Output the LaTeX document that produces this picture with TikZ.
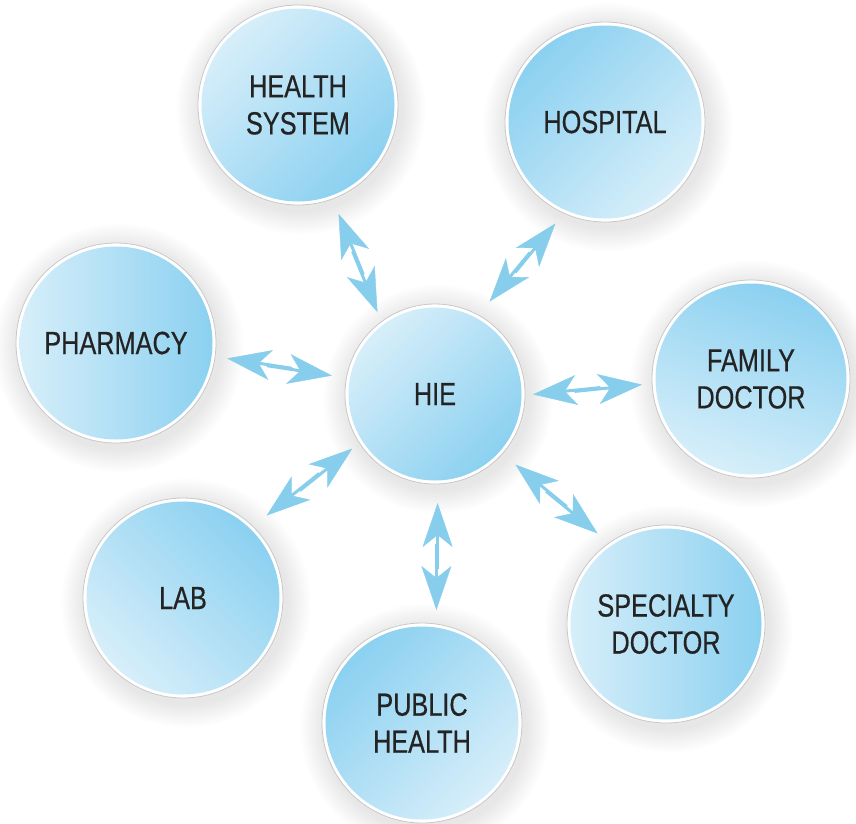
\documentclass[tikz,border=0pt]{standalone}
\usepackage{fontspec}
\setmainfont{Liberation Sans}[FakeStretch=0.79,FakeBold=0.5]
\usetikzlibrary{arrows.meta,calc,backgrounds}
\definecolor{bubdark}{RGB}{138,208,240}
\definecolor{bublight}{RGB}{216,239,250}
\definecolor{rimgray}{RGB}{200,200,200}
\definecolor{arrowblue}{RGB}{135,205,236}
\definecolor{labelgray}{RGB}{35,35,35}
\newcommand\onearrow[2]{\draw[flowarrow] ($(#1)!0.38!(#2)!0.6pt!-90:(#2)$) -- ($(#2)!0.6pt!90:(#1)$);}
\newcommand\twoway[2]{\onearrow{#1}{#2}\onearrow{#2}{#1}}
\begin{document}
\begin{tikzpicture}[x=1pt,y=-1pt,
  bubble/.style 2 args={circle, draw=rimgray, line width=0.8pt, fill=white,
    minimum size=2*#1, inner sep=0pt, align=center, text=labelgray,
    font=\fontsize{32}{37}\selectfont,
    path picture={\shade[top color=bubdark,bottom color=bublight,shading angle=#2]
      (path picture bounding box.center) circle [radius=#1-3.5pt];}},
  flowarrow/.style={draw=arrowblue, line width=3pt,
    -{Stealth[length=44pt,width=30pt,inset=12pt,line width=0.4pt]}}]
\useasboundingbox (0,0) rectangle (856,823);
\node[bubble={100pt}{-135}] (hs) at (298,105) {HEALTH\\SYSTEM};
\node[bubble={100pt}{45}] (hosp) at (605,122) {HOSPITAL};
\node[bubble={100pt}{-90}] (pharm) at (116,343) {PHARMACY};
\node[bubble={90pt}{-135}] (hie) at (435,394) {HIE};
\node[bubble={99pt}{-20}] (fam) at (751,379) {FAMILY\\DOCTOR};
\node[bubble={100pt}{-45}] (lab) at (183,598) {LAB};
\node[bubble={100pt}{45}] (pub) at (422,723) {PUBLIC\\HEALTH};
\node[bubble={99pt}{-90}] (spec) at (666,624) {SPECIALTY\\DOCTOR};
\begin{scope}[on background layer]
\foreach \nd in {hs,hosp,pharm,hie,fam,lab,pub,spec}{
  \foreach \k in {1,...,12}{
    \fill[black,opacity=0.007] let \p1=($(\nd.east)-(\nd.center)$) in
      ([shift={(3,5)}]\nd.center) circle [radius=\x1+2pt*\k];
  }
}
\end{scope}
\coordinate (hs-i) at (378,312);   \coordinate (hs-o) at (338,214);
\coordinate (hosp-i) at (490,302); \coordinate (hosp-o) at (555,223);
\coordinate (pharm-i) at (332,375);\coordinate (pharm-o) at (227,359);
\coordinate (fam-i) at (533,395);  \coordinate (fam-o) at (642,384);
\coordinate (lab-i) at (352,448);  \coordinate (lab-o) at (267,516);
\coordinate (pub-i) at (437,503);  \coordinate (pub-o) at (437,610);
\coordinate (spec-i) at (515,465); \coordinate (spec-o) at (598,533);
\twoway{hs-i}{hs-o}
\twoway{hosp-i}{hosp-o}
\twoway{pharm-i}{pharm-o}
\twoway{fam-i}{fam-o}
\twoway{lab-i}{lab-o}
\twoway{pub-i}{pub-o}
\twoway{spec-i}{spec-o}
\end{tikzpicture}
\end{document}
